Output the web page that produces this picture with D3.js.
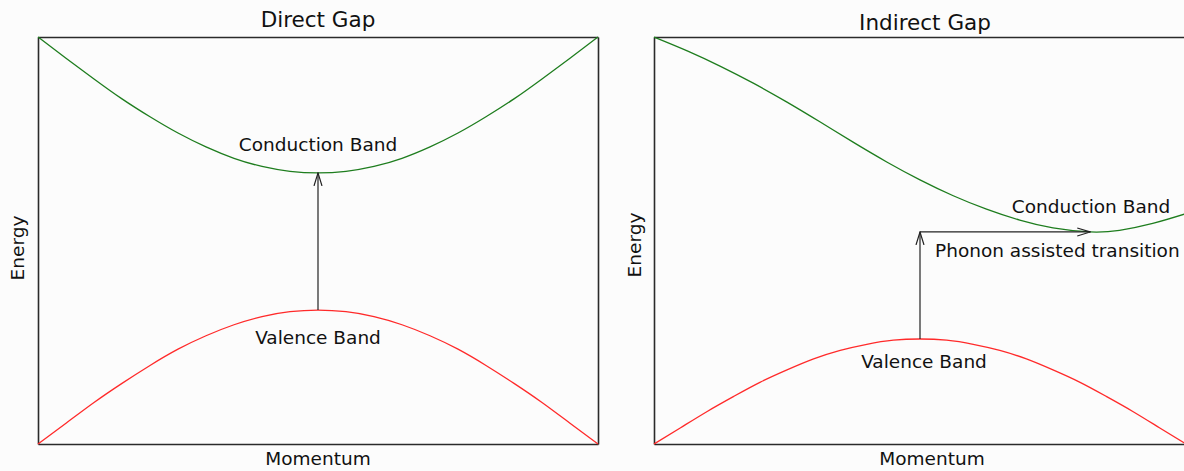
<!DOCTYPE html>
<html>
<head>
<meta charset="utf-8">
<script src="https://cdn.jsdelivr.net/npm/d3@7"></script>
<style>
  html, body { margin: 0; padding: 0; background: #fcfcfc; }
  svg { display: block; }
  text { font-family: "DejaVu Sans", Verdana, sans-serif; fill: #111; }
</style>
</head>
<body>
<svg id="chart" width="1184" height="471"></svg>
<script>
// ---------- data ----------
const panelTitles = ["Direct Gap", "Indirect Gap"];
const xLabel = "Momentum";
const yLabel = "Energy";

// Direct gap: momentum from -1 to 1, energy 0..100
const directK = [-1, -0.9, -0.8, -0.7, -0.6, -0.5, -0.4, -0.3, -0.2, -0.1, 0,
                 0.1, 0.2, 0.3, 0.4, 0.5, 0.6, 0.7, 0.8, 0.9, 1];
const directConduction = [100, 94.8, 89.7, 84.8, 80.4, 76.4, 73.0, 70.2, 68.2, 67.0, 66.6,
                          67.0, 68.2, 70.2, 73.0, 76.4, 80.4, 84.8, 89.7, 94.8, 100];
const directValence = [0, 5.1, 10.2, 14.9, 19.3, 23.3, 26.6, 29.3, 31.3, 32.5, 32.9,
                       32.5, 31.3, 29.3, 26.6, 23.3, 19.3, 14.9, 10.2, 5.1, 0];

// Indirect gap
const indirectCondK = [-1, -0.875, -0.75, -0.625, -0.5, -0.375, -0.25, -0.125, 0,
                       0.125, 0.25, 0.375, 0.5, 0.64, 0.75, 0.875, 1];
const indirectConduction = [100, 96.6, 92.8, 88.6, 84.0, 79.1, 74.1, 69.3, 64.9,
                            61.0, 57.7, 55.0, 53.1, 52.1, 52.5, 54.2, 56.6];
const indirectValK = directK;
const indirectValence = [0, 4.0, 8.0, 11.7, 15.2, 18.2, 20.9, 23.0, 24.5, 25.5, 25.8,
                         25.5, 24.5, 23.0, 20.9, 18.2, 15.2, 11.7, 8.0, 4.0, 0];

// transitions
const directTransitionK = 0;
const indirectValenceTopK = 0;
const indirectConductionMinK = 0.64;

// ---------- drawing ----------
const svg = d3.select("#chart");
const defs = svg.append("defs");
defs.append("marker")
  .attr("id", "chev")
  .attr("viewBox", "0 0 14 10")
  .attr("refX", 13).attr("refY", 5)
  .attr("markerWidth", 14).attr("markerHeight", 10)
  .attr("markerUnits", "userSpaceOnUse")
  .attr("orient", "auto")
  .append("path")
  .attr("d", "M0,1 L13,5 L0,9")
  .attr("fill", "none").attr("stroke", "#222").attr("stroke-width", 1.2);

const panels = [
  { left: 38, right: 598, top: 37, bottom: 444 },
  { left: 654, right: 1186, top: 37, bottom: 444 }
];

const green = "#1e7d1e", red = "#ff2a2a";
const FS = 18.5, TFS = 21.5;

function makePanel(p) {
  const x = d3.scaleLinear().domain([-1, 1]).range([p.left, p.right]);
  const y = d3.scaleLinear().domain([0, 100]).range([p.bottom, p.top]);
  const g = svg.append("g");
  const axes = [
    [d3.axisBottom(x), `translate(0,${p.bottom})`],
    [d3.axisTop(x), `translate(0,${p.top})`],
    [d3.axisLeft(y), `translate(${p.left},0)`],
    [d3.axisRight(y), `translate(${p.right},0)`]
  ];
  axes.forEach(([ax, tr]) => {
    const a = g.append("g").attr("transform", tr)
      .call(ax.tickValues([]).tickSizeOuter(0));
    a.select(".domain").attr("stroke", "#2a2a2a").attr("stroke-width", 1.6);
  });
  return { x, y, g };
}

const line = (x, y) => d3.line().x(d => x(d[0])).y(d => y(d[1])).curve(d3.curveNatural);

// Panel 1: Direct gap
{
  const p = panels[0];
  const { x, y, g } = makePanel(p);
  g.append("path").datum(d3.zip(directK, directConduction))
    .attr("d", line(x, y)).attr("fill", "none").attr("stroke", green).attr("stroke-width", 1.3);
  g.append("path").datum(d3.zip(directK, directValence))
    .attr("d", line(x, y)).attr("fill", "none").attr("stroke", red).attr("stroke-width", 1.3);
  const iTop = directK.indexOf(directTransitionK);
  g.append("line")
    .attr("x1", x(directTransitionK)).attr("y1", y(directValence[iTop]))
    .attr("x2", x(directTransitionK)).attr("y2", y(directConduction[iTop]))
    .attr("stroke", "#222").attr("stroke-width", 1.2).attr("marker-end", "url(#chev)");
  g.append("text").attr("x", x(0)).attr("y", 151).attr("text-anchor", "middle")
    .attr("font-size", FS).text("Conduction Band");
  g.append("text").attr("x", x(0)).attr("y", 344).attr("text-anchor", "middle")
    .attr("font-size", FS).text("Valence Band");
  g.append("text").attr("x", x(0)).attr("y", 27).attr("text-anchor", "middle")
    .attr("font-size", TFS).text(panelTitles[0]);
  g.append("text").attr("x", x(0)).attr("y", 465).attr("text-anchor", "middle")
    .attr("font-size", FS).text(xLabel);
  g.append("text").attr("transform", `translate(24,248) rotate(-90)`).attr("text-anchor", "middle")
    .attr("font-size", FS).text(yLabel);
}

// Panel 2: Indirect gap
{
  const p = panels[1];
  const { x, y, g } = makePanel(p);
  g.append("path").datum(d3.zip(indirectCondK, indirectConduction))
    .attr("d", line(x, y)).attr("fill", "none").attr("stroke", green).attr("stroke-width", 1.3);
  g.append("path").datum(d3.zip(indirectValK, indirectValence))
    .attr("d", line(x, y)).attr("fill", "none").attr("stroke", red).attr("stroke-width", 1.3);
  const vTop = indirectValence[indirectValK.indexOf(indirectValenceTopK)];
  const cMin = indirectConduction[indirectCondK.indexOf(indirectConductionMinK)];
  g.append("line")
    .attr("x1", x(indirectValenceTopK)).attr("y1", y(vTop))
    .attr("x2", x(indirectValenceTopK)).attr("y2", y(cMin))
    .attr("stroke", "#222").attr("stroke-width", 1.2).attr("marker-end", "url(#chev)");
  g.append("line")
    .attr("x1", x(indirectValenceTopK)).attr("y1", y(cMin))
    .attr("x2", x(indirectConductionMinK)).attr("y2", y(cMin))
    .attr("stroke", "#222").attr("stroke-width", 1.2).attr("marker-end", "url(#chev)");
  g.append("text").attr("x", 1091).attr("y", 213).attr("text-anchor", "middle")
    .attr("font-size", FS).text("Conduction Band");
  g.append("text").attr("x", 935).attr("y", 257).attr("text-anchor", "start")
    .attr("font-size", FS).text("Phonon assisted transition");
  g.append("text").attr("x", 924).attr("y", 368).attr("text-anchor", "middle")
    .attr("font-size", FS).text("Valence Band");
  g.append("text").attr("x", 925).attr("y", 30).attr("text-anchor", "middle")
    .attr("font-size", TFS).text(panelTitles[1]);
  g.append("text").attr("x", 932).attr("y", 465).attr("text-anchor", "middle")
    .attr("font-size", FS).text(xLabel);
  g.append("text").attr("transform", `translate(641,245) rotate(-90)`).attr("text-anchor", "middle")
    .attr("font-size", FS).text(yLabel);
}
</script>
</body>
</html>
